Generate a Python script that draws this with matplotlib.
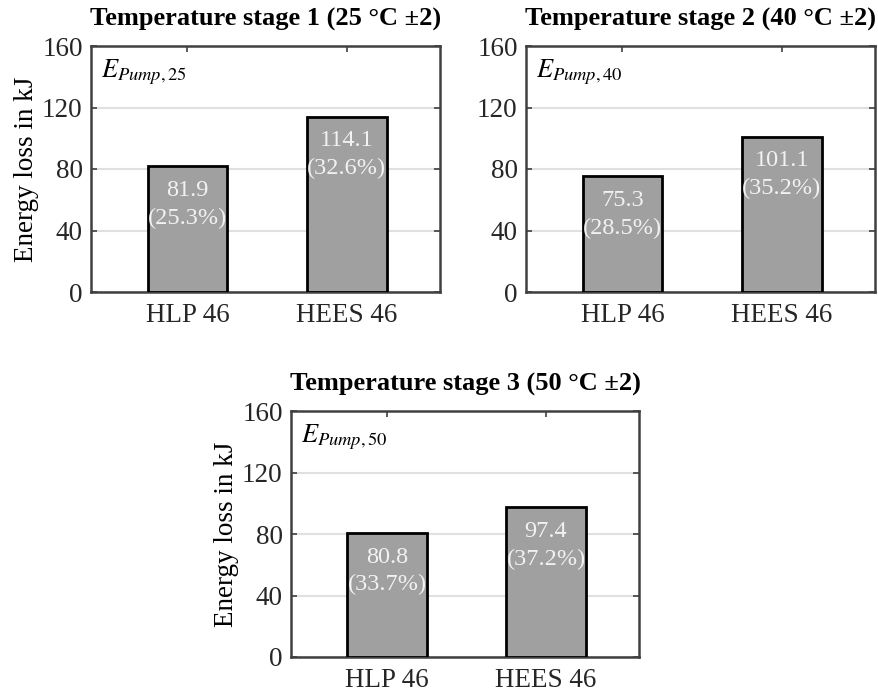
import matplotlib
matplotlib.use("Agg")
import matplotlib.pyplot as plt

categories = ["HLP 46", "HEES 46"]
values_25 = [81.9, 114.1]
values_40 = [75.3, 101.1]
values_50 = [80.8, 97.4]
shares_25 = [25.3, 32.6]
shares_40 = [28.5, 35.2]
shares_50 = [33.7, 37.2]
titles = ["Temperature stage 1 (25 °C ±2)",
          "Temperature stage 2 (40 °C ±2)",
          "Temperature stage 3 (50 °C ±2)"]
labels = [r"$E_{Pump,25}$", r"$E_{Pump,40}$", r"$E_{Pump,50}$"]
yticks = [0, 40, 80, 120, 160]

plt.rcParams["font.family"] = ["Liberation Serif", "DejaVu Serif"]
plt.rcParams["mathtext.fontset"] = "stix"

W, H = 879, 700
fig = plt.figure(figsize=(W / 100, H / 100), dpi=100)

def rect(l, t, r, b):
    return [l / W, 1 - b / H, (r - l) / W, (b - t) / H]

axes_rects = [rect(91, 46, 440, 292), rect(526, 46, 875, 292), rect(291, 411, 639, 657)]
data = [(values_25, shares_25), (values_40, shares_40), (values_50, shares_50)]
spine_c = "#404040"

for i, (r, (vals, shares)) in enumerate(zip(axes_rects, data)):
    ax = fig.add_axes(r)
    x = [1, 2]
    ax.bar(x, vals, width=0.5, color="#a0a0a0", edgecolor="black", linewidth=2, zorder=3)
    ax.set_xlim(0.395, 2.585)
    ax.set_ylim(0, 160)
    ax.set_yticks(yticks)
    ax.set_xticks(x)
    ax.set_xticklabels(categories)
    ax.yaxis.grid(True, color="#e0e0e0", linewidth=1.5, zorder=0)
    ax.set_axisbelow(True)
    ax.tick_params(direction="in", top=True, right=True, length=4, width=1.2,
                   color=spine_c, labelsize=19.5, labelcolor="#262626", pad=6)
    ax.tick_params(axis="x", pad=8)
    for s in ax.spines.values():
        s.set_color(spine_c)
        s.set_linewidth(1.8)
    ax.set_title(titles[i], fontsize=19, fontweight="bold", pad=15)
    ax.text(0.03, 0.895, labels[i], transform=ax.transAxes, fontsize=19,
            va="center", ha="left")
    if i != 1:
        ax.set_ylabel("Energy loss in kJ", fontsize=19.5, labelpad=2)
    for xi, v, s in zip(x, vals, shares):
        ax.annotate(f"{v:.1f}\n({s:.1f}%)", (xi, v), xytext=(0, -10),
                    textcoords="offset points", ha="center", va="top",
                    fontsize=17.5, color="#f2f2f2", linespacing=1.4, zorder=4)

fig.savefig("out.png", dpi=100)
